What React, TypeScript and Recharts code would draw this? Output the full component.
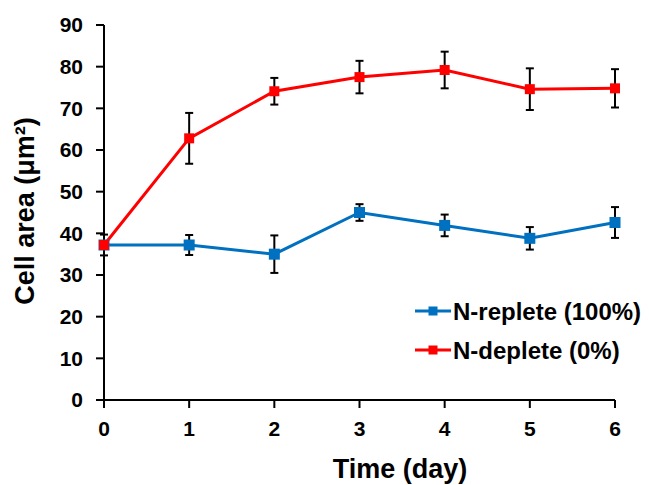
import React from 'react';
import { LineChart, Line, XAxis, YAxis, ErrorBar, Legend } from 'recharts';

const days = [0, 1, 2, 3, 4, 5, 6];
const repleteArea = [37.2, 37.2, 35.0, 45.0, 41.9, 38.8, 42.6];
const repleteErr = [2.5, 2.4, 4.5, 2.0, 2.6, 2.7, 3.7];
const depleteArea = [37.2, 62.8, 74.1, 77.5, 79.2, 74.6, 74.8];
const depleteErr = [0.8, 6.1, 3.2, 3.9, 4.4, 5.0, 4.6];
const yTicks = [0, 10, 20, 30, 40, 50, 60, 70, 80, 90];

const BLUE = '#0070C0';
const RED = '#FF0000';
const FONT = '"Liberation Sans", Arial, sans-serif';

const data = days.map((d, i) => ({
  day: d,
  replete: repleteArea[i],
  repleteErr: repleteErr[i],
  deplete: depleteArea[i],
  depleteErr: depleteErr[i],
}));

const squareDot = (color: string, size: number) => (props: any) => {
  const { cx, cy, index } = props;
  return <rect key={`dot-${color}-${index}`} x={cx - size / 2} y={cy - size / 2} width={size} height={size} fill={color} />;
};

const legendItems = [
  { label: 'N-replete (100%)', color: BLUE },
  { label: 'N-deplete (0%)', color: RED },
];

function LegendBox() {
  return (
    <svg width={240} height={80}>
      {legendItems.map((it, i) => {
        const y = 16 + i * 39;
        return (
          <g key={it.label}>
            <line x1={5} y1={y} x2={41} y2={y} stroke={it.color} strokeWidth={3} />
            <rect x={18.5} y={y - 4.5} width={9} height={9} fill={it.color} />
            <text x={43} y={y} dominantBaseline="central" fontFamily={FONT} fontWeight="bold" fontSize={24} fill="#000">
              {it.label}
            </text>
          </g>
        );
      })}
    </svg>
  );
}

export default function App() {
  return (
    <div style={{ position: 'absolute', left: 0, top: 0, background: '#fff' }}>
      <LineChart width={649} height={485} data={data} margin={{ top: 25, right: 34, left: 0, bottom: 0 }}>
        <XAxis
          dataKey="day"
          type="number"
          domain={[0, 6]}
          ticks={days}
          height={85}
          tickSize={8}
          tickMargin={13}
          stroke="#000"
          strokeWidth={2}
          tick={{ fill: '#000', fontSize: 21, fontWeight: 'bold', fontFamily: FONT }}
          label={{
            content: () => (
              <text x={400} y={478} textAnchor="middle" fontFamily={FONT} fontWeight="bold" fontSize={27} fill="#000">
                Time (day)
              </text>
            ),
          }}
        />
        <YAxis
          type="number"
          domain={[0, 90]}
          ticks={yTicks}
          width={104}
          tickSize={8}
          tickMargin={13}
          stroke="#000"
          strokeWidth={2}
          tick={{ fill: '#000', fontSize: 21, fontWeight: 'bold', fontFamily: FONT }}
          label={{
            content: () => (
              <text
                x={25}
                y={211}
                textAnchor="middle"
                dominantBaseline="central"
                transform="rotate(-90, 25, 211)"
                fontFamily={FONT}
                fontWeight="bold"
                fontSize={27}
                fill="#000"
              >
                Cell area (μm²)
              </text>
            ),
          }}
        />
        <Legend
          layout="vertical"
          align="center"
          verticalAlign="middle"
          wrapperStyle={{ left: 410, top: 295, width: 240, height: 80 }}
          content={() => <LegendBox />}
        />
        <Line
          dataKey="replete"
          stroke={BLUE}
          strokeWidth={3}
          dot={squareDot(BLUE, 11)}
          activeDot={false}
          isAnimationActive={false}
        >
          <ErrorBar dataKey="repleteErr" direction="y" width={4} stroke="#000" strokeWidth={2} />
        </Line>
        <Line
          dataKey="deplete"
          stroke={RED}
          strokeWidth={3}
          dot={squareDot(RED, 10)}
          activeDot={false}
          isAnimationActive={false}
        >
          <ErrorBar dataKey="depleteErr" direction="y" width={4} stroke="#000" strokeWidth={2} />
        </Line>
      </LineChart>
    </div>
  );
}
